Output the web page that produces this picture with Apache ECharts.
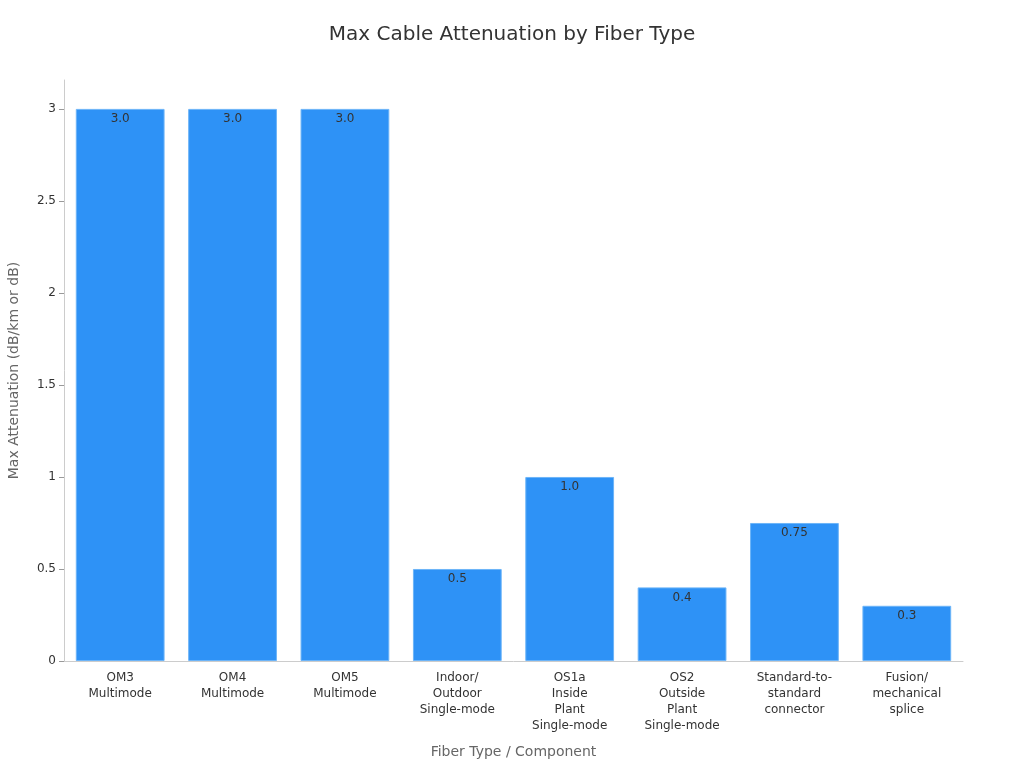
<!DOCTYPE html>
<html>
<head>
<meta charset="utf-8">
<title>Max Cable Attenuation by Fiber Type</title>
<script src="https://cdn.jsdelivr.net/npm/echarts@6/dist/echarts.min.js"></script>
<style>
  html, body { margin: 0; padding: 0; background: #fff; }
  #main { width: 1024px; height: 768px; }
</style>
</head>
<body>
<div id="main"></div>
<script>
// categories and values
const categories = [
  'OM3\nMultimode',
  'OM4\nMultimode',
  'OM5\nMultimode',
  'Indoor/\nOutdoor\nSingle-mode',
  'OS1a\nInside\nPlant\nSingle-mode',
  'OS2\nOutside\nPlant\nSingle-mode',
  'Standard-to-\nstandard\nconnector',
  'Fusion/\nmechanical\nsplice'
];
const attenuation = [3.0, 3.0, 3.0, 0.5, 1.0, 0.4, 0.75, 0.3];
const barLabels = ['3.0', '3.0', '3.0', '0.5', '1.0', '0.4', '0.75', '0.3'];
const yTicks = [0, 0.5, 1, 1.5, 2, 2.5, 3];

const font = 'DejaVu Sans';
const chart = echarts.init(document.getElementById('main'));

const option = {
  backgroundColor: '#ffffff',
  textStyle: { fontFamily: font },
  title: {
    text: 'Max Cable Attenuation by Fiber Type',
    left: 'center',
    top: 20,
    textStyle: { fontFamily: font, fontSize: 20, fontWeight: 'normal', color: '#333' }
  },
  grid: { left: 64, right: 61, top: 80, bottom: 107, containLabel: false, outerBoundsMode: 'none' },
  xAxis: {
    type: 'category',
    data: categories,
    name: 'Fiber Type / Component',
    nameLocation: 'middle',
    nameGap: 84,
    nameTextStyle: { fontFamily: font, fontSize: 14, color: '#666' },
    axisLine: { lineStyle: { color: '#ccc' } },
    axisTick: { alignWithLabel: true, lineStyle: { color: '#999' } },
    axisLabel: { interval: 0, fontFamily: font, fontSize: 12, color: '#333', lineHeight: 16, margin: 9 }
  },
  yAxis: {
    type: 'value',
    min: 0,
    max: 3.157,
    interval: 0.5,
    name: 'Max Attenuation (dB/km or dB)',
    nameLocation: 'middle',
    nameGap: 43,
    nameTextStyle: { fontFamily: font, fontSize: 14, color: '#666' },
    axisLine: { show: true, lineStyle: { color: '#ccc' } },
    axisTick: { show: true, customValues: yTicks, lineStyle: { color: '#999' } },
    axisLabel: { customValues: yTicks, fontFamily: font, fontSize: 12, color: '#333' },
    splitLine: { show: false }
  },
  series: [{
    type: 'bar',
    data: attenuation,
    barCategoryGap: '21%',
    itemStyle: { color: '#2e92f6', borderColor: '#6cb4f8', borderWidth: 1 },
    label: {
      show: true,
      position: 'insideTop',
      distance: 4,
      fontFamily: font,
      fontSize: 12,
      color: '#333',
      formatter: p => barLabels[p.dataIndex]
    }
  }]
};

chart.setOption(option);
</script>
</body>
</html>
